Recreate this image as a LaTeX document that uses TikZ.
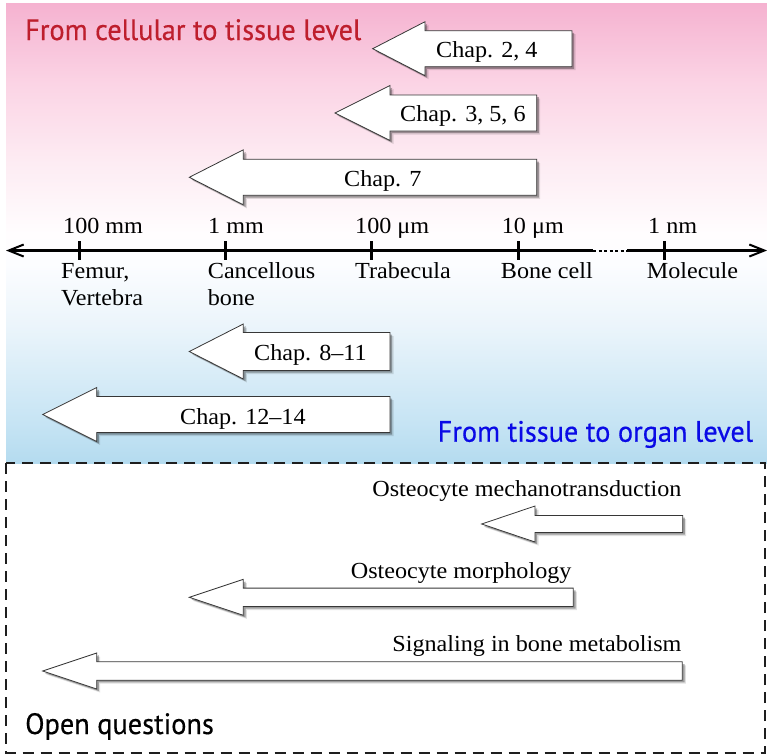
\documentclass[tikz,border=0pt]{standalone}
\usepackage{fontspec}
\setmainfont{Liberation Serif}
\newfontfamily\lblfont[FakeStretch=1.05]{Liberation Serif}
\newfontfamily\headfont[FakeStretch=0.96,FakeBold=0.4]{PT Sans}
\usetikzlibrary{arrows.meta,shadows}
\definecolor{redhead}{RGB}{190,30,45}
\definecolor{bluehead}{RGB}{10,10,230}
\definecolor{bgA}{RGB}{180,219,239}
\definecolor{bgB}{RGB}{198,228,244}
\definecolor{bgC}{RGB}{236,245,251}
\definecolor{bgD}{RGB}{252,253,255}
\definecolor{bgE}{RGB}{255,253,254}
\definecolor{bgF}{RGB}{253,236,243}
\definecolor{bgG}{RGB}{251,212,229}
\definecolor{bgH}{RGB}{245,178,208}
\definecolor{arrowline}{RGB}{55,55,55}
\pgfdeclareverticalshading{bgshade}{100bp}{color(0bp)=(bgA); color(25bp)=(bgA); color(29.34bp)=(bgB); color(40.18bp)=(bgC); color(46.69bp)=(bgD); color(49.95bp)=(bgE); color(57.54bp)=(bgF); color(66.21bp)=(bgG); color(75bp)=(bgH); color(100bp)=(bgH)}
\tikzset{
  lbl/.style={font=\lblfont\fontsize{23}{27}\selectfont, inner sep=0pt, text=black},
  heading/.style={font=\headfont\fontsize{29.5}{34}\selectfont, inner sep=0pt},
  arrowbox/.style={draw=arrowline, line width=0.8pt, fill=white, line join=miter,
    general shadow={shadow xshift=3.5pt, shadow yshift=-3.5pt, fill=black, opacity=0.12},
    general shadow={shadow xshift=2.2pt, shadow yshift=-2.2pt, fill=black, opacity=0.3}},
  axisline/.style={line width=3pt, black},
  tickmark/.style={line width=3pt, black},
  barb/.tip={Straight Barb[length=15pt,width=12pt,line width=2pt]}
}
% tip x, centre y, head base x, right x, head half height, body half height
\newcommand\blkarrow[6]{%
  \path[arrowbox] (#1,#2) -- (#3,#2-#5) -- (#3,#2-#6) -- (#4,#2-#6) -- (#4,#2+#6) -- (#3,#2+#6) -- (#3,#2+#5) -- cycle;}
\begin{document}
\begin{tikzpicture}[x=1pt,y=-1pt]
\useasboundingbox (0,0) rectangle (767,755);
% background
\shade[shading=bgshade] (6,3) rectangle (767,463);
% dashed box
\draw[line width=2pt, color={rgb,255:red,30;green,30;blue,30}, dash pattern=on 11pt off 7pt] (6,463) rectangle (765,752.5);
% headings
\node[heading, text=redhead, anchor=base west] (h1) at (25,40) {From cellular to tissue level};
\node[heading, text=bluehead, anchor=base east] (h2) at (753.3,441.7) {From tissue to organ level};
\node[heading, text=black, anchor=base west] (h3) at (25,734) {Open questions};
% axis
\coordinate (axL) at (6,250.5);
\coordinate (gapL) at (593,250.5);
\coordinate (gapR) at (627,250.5);
\coordinate (axR) at (767,250.5);
\draw[axisline, barb-] (axL) -- (gapL);
\draw[line width=2pt, dash pattern=on 3pt off 2.5pt] (gapL) -- (gapR);
\draw[axisline, -barb] (gapR) -- (axR);
\foreach \tx/\nm in {79/t1, 225.7/t2, 371/t3, 518.3/t4, 664.3/t5}{
  \draw[tickmark] (\tx,241) -- (\tx,260);
}
% scale labels
\node[lbl, anchor=base west] (s1) at (63,233) {100 mm};
\node[lbl, anchor=base west] (s2) at (208,233) {1 mm};
\node[lbl, anchor=base west] (s3) at (355,233) {100 μm};
\node[lbl, anchor=base west] (s4) at (501.7,233) {10 μm};
\node[lbl, anchor=base west] (s5) at (648,233) {1 nm};
\node[lbl, anchor=base west] (o1) at (61,278) {Femur,};
\node[lbl, anchor=base west] (o1b) at (61,305) {Vertebra};
\node[lbl, anchor=base west] (o2) at (207.7,278) {Cancellous};
\node[lbl, anchor=base west] (o2b) at (207.7,305) {bone};
\node[lbl, anchor=base west] (o3) at (355,278) {Trabecula};
\node[lbl, anchor=base west] (o4) at (500.7,278) {Bone cell};
\node[lbl, anchor=base west] (o5) at (646.7,278) {Molecule};
% chapter arrows
\blkarrow{372.7}{48.7}{425}{572}{27}{18}
\node[lbl, anchor=base west] (c1) at (436,57.3) {Chap. 2, 4};
\blkarrow{335}{113}{390}{536.7}{27.5}{18}
\node[lbl, anchor=base west] (c2) at (400,121.7) {Chap. 3, 5, 6};
\blkarrow{189.3}{177.3}{243.3}{536.7}{27.5}{18}
\node[lbl, anchor=base west] (c3) at (344,186.7) {Chap. 7};
\blkarrow{189.3}{351.5}{243.3}{390}{27.5}{19}
\node[lbl, anchor=base west] (c4) at (254,360) {Chap. 8–11};
\blkarrow{42.7}{414.5}{96.7}{390}{27}{18}
\node[lbl, anchor=base west] (c5) at (180,424) {Chap. 12–14};
% open question arrows
\blkarrow{481.7}{524}{535}{682.7}{18}{8.5}
\node[lbl, anchor=base east] (q1) at (681.7,496) {Osteocyte mechanotransduction};
\blkarrow{189.3}{597.3}{243.3}{573.3}{18}{9.2}
\node[lbl, anchor=base east] (q2) at (571.7,578.3) {Osteocyte morphology};
\blkarrow{42.7}{671}{96.7}{682.3}{18}{9.2}
\node[lbl, anchor=base east] (q3) at (681.7,651.7) {Signaling in bone metabolism};
\end{tikzpicture}
\end{document}
